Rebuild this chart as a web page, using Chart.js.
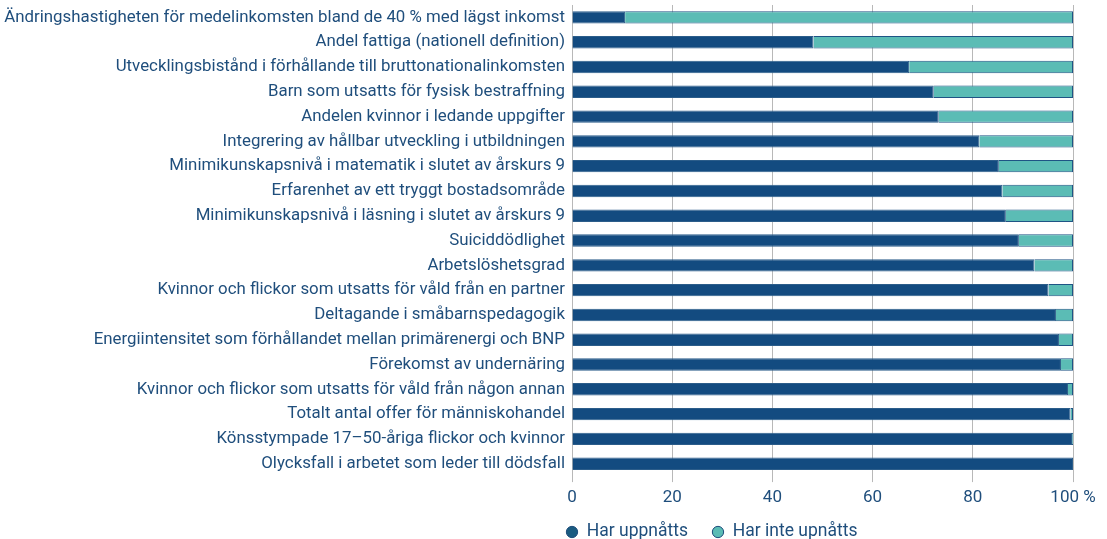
<!DOCTYPE html>
<html>
<head>
<meta charset="utf-8">
<script src="https://cdn.jsdelivr.net/npm/chart.js@4/dist/chart.umd.min.js"></script>
<style>
  html, body { margin: 0; padding: 0; background: #ffffff; }
  #wrap { width: 1107px; height: 539px; position: relative; }
</style>
</head>
<body>
<div id="wrap"><canvas id="c" width="1107" height="539"></canvas></div>
<script>
const categories = [
  "Ändringshastigheten för medelinkomsten bland de 40 % med lägst inkomst",
  "Andel fattiga (nationell definition)",
  "Utvecklingsbistånd i förhållande till bruttonationalinkomsten",
  "Barn som utsatts för fysisk bestraffning",
  "Andelen kvinnor i ledande uppgifter",
  "Integrering av hållbar utveckling i utbildningen",
  "Minimikunskapsnivå i matematik i slutet av årskurs 9",
  "Erfarenhet av ett tryggt bostadsområde",
  "Minimikunskapsnivå i läsning i slutet av årskurs 9",
  "Suiciddödlighet",
  "Arbetslöshetsgrad",
  "Kvinnor och flickor som utsatts för våld från en partner",
  "Deltagande i småbarnspedagogik",
  "Energiintensitet som förhållandet mellan primärenergi och BNP",
  "Förekomst av undernäring",
  "Kvinnor och flickor som utsatts för våld från någon annan",
  "Totalt antal offer för människohandel",
  "Könsstympade 17–50-åriga flickor och kvinnor",
  "Olycksfall i arbetet som leder till dödsfall"
];
const achieved    = [10.6, 48.2, 67.3, 72.2, 73.2, 81.3, 85.2, 85.9, 86.6, 89.2, 92.3, 95.1, 96.6, 97.2, 97.6, 99.0, 99.5, 99.8, 100];
const notAchieved = [89.4, 51.8, 32.7, 27.8, 26.8, 18.7, 14.8, 14.1, 13.4, 10.8,  7.7,  4.9,  3.4,  2.8,  2.4,  1.0,  0.5,  0.2, 0];
const seriesNames = ["Har uppnåtts", "Har inte upnåtts"];
const xTicks = [0, 20, 40, 60, 80, 100];

const textColor = "#1f4e7c";
const fontFamily = "Roboto, 'Noto Sans', sans-serif";
const legendFontSize = 17.5;

const legendShift = {
  id: "legendShift",
  afterLayout(chart) {
    const lg = chart.legend;
    if (lg) {
      const pad = lg.options.labels.padding;
      lg.left = chart.chartArea.left - 6 - pad;
      lg.top = 532 - pad - legendFontSize / 2;
    }
  }
};

new Chart(document.getElementById("c"), {
  type: "bar",
  data: {
    labels: categories,
    datasets: [
      { label: seriesNames[0], data: achieved, backgroundColor: "#134b80", borderColor: "#2c5d8a", borderWidth: 1, barPercentage: 0.5, categoryPercentage: 1 },
      { label: seriesNames[1], data: notAchieved, backgroundColor: "#5bbcb5", borderColor: "#1f5485", borderWidth: 1, barPercentage: 0.5, categoryPercentage: 1 }
    ]
  },
  options: {
    indexAxis: "y",
    responsive: false,
    animation: false,
    devicePixelRatio: 1,
    layout: { padding: { left: 0, right: 34, top: 5, bottom: -25 } },
    scales: {
      x: {
        stacked: true,
        min: 0, max: 100,
        afterBuildTicks(axis) { axis.ticks = xTicks.map(v => ({ value: v })); },
        grid: { color: "#b8b8b8", lineWidth: 1, tickLength: 6, drawTicks: true },
        border: { display: false },
        ticks: {
          color: textColor,
          font: { family: fontFamily, size: 17 },
          padding: 5,
          callback: v => (v === 100 ? "100 %" : String(v))
        }
      },
      y: {
        stacked: true,
        afterFit(axis) { axis.width = 572; axis.paddingTop = 0; axis.paddingBottom = 0; },
        grid: { display: false, drawTicks: false },
        border: { display: false },
        ticks: {
          color: textColor,
          font: { family: fontFamily, size: 16.85 },
          padding: 7,
          autoSkip: false
        }
      }
    },
    plugins: {
      tooltip: { enabled: false },
      legend: {
        position: "bottom",
        align: "start",
        fullSize: false,
        labels: {
          usePointStyle: true,
          pointStyle: "circle",
          boxWidth: 12, boxHeight: 8,
          padding: 24,
          color: textColor,
          font: { family: fontFamily, size: legendFontSize },
          generateLabels(chart) {
            const fills = ["#1a5b80", "#5bbcb5"];
            return chart.data.datasets.map((ds, i) => ({
              text: ds.label,
              fillStyle: fills[i],
              strokeStyle: "#1f4e7c",
              lineWidth: 1,
              pointStyle: "circle",
              fontColor: textColor,
              hidden: false,
              datasetIndex: i
            }));
          }
        }
      }
    }
  },
  plugins: [legendShift]
});
</script>
</body>
</html>
